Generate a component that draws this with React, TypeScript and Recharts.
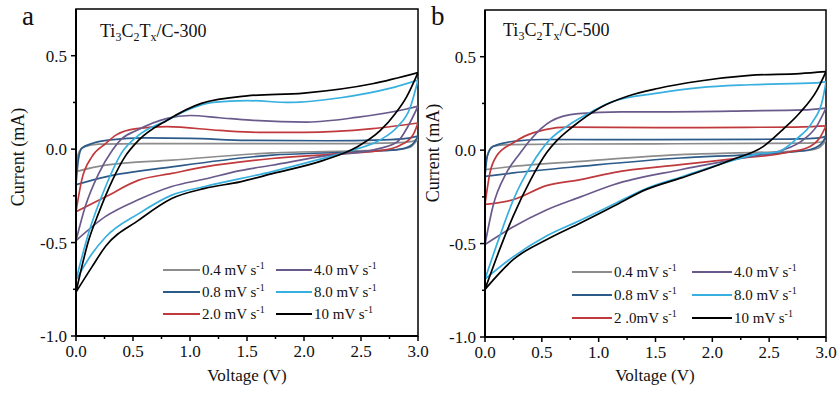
import React from 'react';
import { LineChart, Line, XAxis, YAxis, ReferenceArea } from 'recharts';

type Pt = [number, number];

// scan rates, legend text and colours (same order in both panels)
const labelsA = ['0.4 mV s', '0.8 mV s', '2.0 mV s', '4.0 mV s', '8.0 mV s', '10 mV s'];
const labelsB = ['0.4 mV s', '0.8 mV s', '2 .0mV s', '4.0 mV s', '8.0 mV s', '10 mV s'];
const colors = ['#8c8c8c', '#2d5b89', '#c0393c', '#6a5a8c', '#37afdf', '#000000'];

const xTicks = [0, 0.25, 0.5, 0.75, 1, 1.25, 1.5, 1.75, 2, 2.25, 2.5, 2.75, 3];
const yTicks = [-1, -0.75, -0.5, -0.25, 0, 0.25, 0.5];

// panel a: Ti3C2Tx/C-300, voltage (V) vs current (mA)
// Fwd = anodic sweep (upper branch), Rev = cathodic sweep (lower branch), both listed by rising V
const a04Fwd: Pt[] = [[0, -0.12], [0.01, -0.07], [0.02, -0.025], [0.07, 0.012], [0.2, 0.027], [0.6, 0.03], [1.5, 0.03], [2.4, 0.03], [2.8, 0.034], [2.95, 0.042], [3, 0.055]];
const a04Rev: Pt[] = [[0, -0.12], [0.26, -0.086], [0.84, -0.059], [1.72, -0.02], [2.4, -0.01], [2.8, -0.004], [2.93, 0.01], [3, 0.055]];
const a08Fwd: Pt[] = [[0, -0.19], [0.02, -0.06], [0.05, 0.004], [0.14, 0.03], [0.3, 0.05], [0.6, 0.06], [1, 0.058], [1.5, 0.047], [2.2, 0.045], [2.7, 0.05], [2.9, 0.058], [3, 0.07]];
const a08Rev: Pt[] = [[0, -0.19], [0.26, -0.148], [0.84, -0.095], [1.72, -0.032], [2.3, -0.018], [2.7, -0.008], [2.85, 0], [2.95, 0.025], [3, 0.07]];
const a20Fwd: Pt[] = [[0, -0.335], [0.05, -0.166], [0.14, -0.04], [0.26, 0.03], [0.35, 0.075], [0.53, 0.11], [0.8, 0.12], [1.26, 0.1], [1.6, 0.09], [2, 0.09], [2.6, 0.11], [3, 0.14]];
const a20Rev: Pt[] = [[0, -0.335], [0.26, -0.255], [0.55, -0.166], [0.84, -0.13], [1.13, -0.095], [1.72, -0.05], [2.3, -0.025], [2.7, -0.005], [2.84, 0.02], [2.92, 0.05], [2.96, 0.08], [3, 0.14]];
const a40Fwd: Pt[] = [[0, -0.49], [0.08, -0.31], [0.2, -0.13], [0.32, -0.005], [0.4, 0.055], [0.53, 0.1], [0.8, 0.165], [1, 0.18], [1.26, 0.168], [1.53, 0.155], [2.03, 0.145], [2.46, 0.17], [2.9, 0.215], [3, 0.23]];
const a40Rev: Pt[] = [[0, -0.49], [0.26, -0.36], [0.55, -0.27], [0.84, -0.2], [1.13, -0.16], [1.44, -0.115], [1.72, -0.086], [2.2, -0.035], [2.6, -0.005], [2.82, 0.04], [2.91, 0.12], [3, 0.23]];
const a80Fwd: Pt[] = [[0, -0.7], [0.11, -0.45], [0.26, -0.2], [0.4, -0.02], [0.55, 0.075], [0.8, 0.155], [1, 0.215], [1.2, 0.25], [1.5, 0.26], [1.88, 0.25], [2.32, 0.275], [2.75, 0.325], [3, 0.37]];
const a80Rev: Pt[] = [[0, -0.7], [0.14, -0.56], [0.26, -0.47], [0.55, -0.345], [0.84, -0.246], [1.13, -0.2], [1.72, -0.12], [2.1, -0.06], [2.4, -0.01], [2.67, 0.05], [2.82, 0.12], [2.93, 0.22], [3, 0.37]];
const a10Fwd: Pt[] = [[0, -0.765], [0.11, -0.49], [0.2, -0.34], [0.32, -0.166], [0.43, -0.04], [0.55, 0.048], [0.8, 0.155], [1.1, 0.245], [1.5, 0.285], [2, 0.3], [2.6, 0.35], [3, 0.41]];
const a10Rev: Pt[] = [[0, -0.765], [0.14, -0.63], [0.26, -0.52], [0.55, -0.38], [0.84, -0.264], [1.13, -0.21], [1.44, -0.175], [1.73, -0.13], [2.17, -0.06], [2.46, 0.01], [2.67, 0.1], [2.8, 0.19], [2.9, 0.28], [3, 0.41]];

// panel b: Ti3C2Tx/C-500
const b04Fwd: Pt[] = [[0, -0.104], [0.01, -0.06], [0.03, -0.01], [0.07, 0.02], [0.2, 0.03], [0.8, 0.033], [1.5, 0.034], [2.4, 0.036], [2.85, 0.038], [2.97, 0.045], [3, 0.052]];
const b04Rev: Pt[] = [[0, -0.104], [0.25, -0.087], [0.84, -0.06], [1.72, -0.024], [2.4, -0.012], [2.8, -0.004], [2.93, 0.01], [3, 0.052]];
const b08Fwd: Pt[] = [[0, -0.14], [0.02, -0.033], [0.07, 0.02], [0.25, 0.047], [0.5, 0.057], [1.5, 0.056], [2.4, 0.058], [2.85, 0.062], [2.97, 0.068], [3, 0.075]];
const b08Rev: Pt[] = [[0, -0.14], [0.25, -0.122], [0.84, -0.087], [1.72, -0.042], [2.3, -0.025], [2.7, -0.01], [2.87, 0.005], [2.96, 0.035], [3, 0.075]];
const b20Fwd: Pt[] = [[0, -0.29], [0.044, -0.12], [0.1, -0.033], [0.25, 0.04], [0.35, 0.075], [0.53, 0.11], [0.73, 0.123], [1.52, 0.12], [2.3, 0.122], [2.8, 0.125], [3, 0.13]];
const b20Rev: Pt[] = [[0, -0.29], [0.25, -0.265], [0.54, -0.19], [0.84, -0.158], [1.13, -0.12], [1.72, -0.078], [2.2, -0.045], [2.68, -0.01], [2.86, 0.02], [2.95, 0.07], [3, 0.13]];
const b40Fwd: Pt[] = [[0, -0.505], [0.07, -0.3], [0.19, -0.12], [0.31, -0.015], [0.4, 0.056], [0.58, 0.155], [0.82, 0.195], [1.2, 0.205], [1.52, 0.205], [2.3, 0.21], [2.8, 0.215], [3, 0.225]];
const b40Rev: Pt[] = [[0, -0.505], [0.25, -0.41], [0.54, -0.32], [0.84, -0.25], [1.13, -0.185], [1.72, -0.105], [2.33, -0.035], [2.62, 0], [2.8, 0.055], [2.92, 0.13], [3, 0.225]];
const b80Fwd: Pt[] = [[0, -0.69], [0.13, -0.46], [0.25, -0.265], [0.4, -0.087], [0.57, 0.056], [0.75, 0.14], [0.95, 0.21], [1.1, 0.255], [1.52, 0.305], [1.89, 0.335], [2.33, 0.35], [2.92, 0.36], [3, 0.365]];
const b80Rev: Pt[] = [[0, -0.69], [0.25, -0.57], [0.54, -0.46], [0.84, -0.375], [1.13, -0.29], [1.42, -0.205], [1.72, -0.145], [2.18, -0.055], [2.4, -0.02], [2.57, -0.01], [2.74, 0.06], [2.88, 0.15], [2.97, 0.27], [3, 0.365]];
const b10Fwd: Pt[] = [[0, -0.745], [0.13, -0.53], [0.25, -0.35], [0.4, -0.16], [0.54, -0.015], [0.64, 0.056], [0.76, 0.12], [1.02, 0.23], [1.26, 0.29], [1.52, 0.33], [1.89, 0.37], [2.33, 0.4], [2.77, 0.41], [3, 0.42]];
const b10Rev: Pt[] = [[0, -0.745], [0.25, -0.585], [0.54, -0.48], [0.84, -0.39], [1.13, -0.3], [1.42, -0.21], [1.72, -0.15], [2.18, -0.05], [2.45, 0.02], [2.62, 0.11], [2.77, 0.2], [2.92, 0.32], [3, 0.42]];

const seriesA = [[a04Fwd, a04Rev], [a08Fwd, a08Rev], [a20Fwd, a20Rev], [a40Fwd, a40Rev], [a80Fwd, a80Rev], [a10Fwd, a10Rev]];
const seriesB = [[b04Fwd, b04Rev], [b08Fwd, b08Rev], [b20Fwd, b20Rev], [b40Fwd, b40Rev], [b80Fwd, b80Rev], [b10Fwd, b10Rev]];

const FONT = 'Liberation Serif, Times New Roman, DejaVu Serif, serif';
const txt = (size: number) => ({ fontFamily: FONT, fontSize: size });

const toRows = (pts: Pt[]) => pts.map(([v, i]) => ({ v, i }));

const isMajor = (val: number) => Math.abs(val * 2 - Math.round(val * 2)) < 1e-6;

const XTick = (props: any) => {
  const { x, y, payload } = props;
  const major = isMajor(payload.value);
  return (
    <g>
      <line x1={x} x2={x} y1={y} y2={y + (major ? 5 : 3)} stroke="#000" strokeWidth={1.5} />
      {major && (
        <text x={x} y={y + 21} textAnchor="middle" style={txt(17)} fill="#111">
          {payload.value.toFixed(1)}
        </text>
      )}
    </g>
  );
};

const YTick = (props: any) => {
  const { x, y, payload } = props;
  const major = isMajor(payload.value);
  return (
    <g>
      <line x1={x} x2={x - (major ? 5 : 3)} y1={y} y2={y} stroke="#000" strokeWidth={1.5} />
      {major && (
        <text x={x - 9} y={y + 6} textAnchor="end" style={txt(17)} fill="#111">
          {payload.value.toFixed(1)}
        </text>
      )}
    </g>
  );
};

interface PanelProps {
  series: Pt[][][];
  left: number;
  top: number;
  right: number;
  yWidth: number;
  xHeight: number;
}

const Panel: React.FC<PanelProps> = ({ series, left, top, right, yWidth, xHeight }) => (
  <div style={{ position: 'absolute', left, top: 0 }}>
    <LineChart width={440} height={394} margin={{ top, right, bottom: 0, left: 0 }}>
      <ReferenceArea x1={0} x2={3} y1={-1} y2={0.75} fill="none" stroke="#000" strokeWidth={1.5} />
      <XAxis
        type="number"
        dataKey="v"
        domain={[0, 3]}
        ticks={xTicks}
        interval={0}
        tick={<XTick />}
        tickLine={false}
        tickSize={0}
        tickMargin={0}
        height={xHeight}
        axisLine={{ stroke: '#000', strokeWidth: 2 }}
        allowDataOverflow
      />
      <YAxis
        type="number"
        domain={[-1, 0.75]}
        ticks={yTicks}
        interval={0}
        tick={<YTick />}
        tickLine={false}
        tickSize={0}
        tickMargin={0}
        width={yWidth}
        axisLine={{ stroke: '#000', strokeWidth: 2 }}
        allowDataOverflow
      />
      {series.map(([fwd, rev], k) => [
        <Line
          key={`f${k}`}
          data={toRows(fwd)}
          dataKey="i"
          type="monotone"
          stroke={colors[k]}
          strokeWidth={1.7}
          dot={false}
          activeDot={false}
          isAnimationActive={false}
        />,
        <Line
          key={`r${k}`}
          data={toRows(rev)}
          dataKey="i"
          type="monotone"
          stroke={colors[k]}
          strokeWidth={1.7}
          dot={false}
          activeDot={false}
          legendType="none"
          isAnimationActive={false}
        />,
      ])}
    </LineChart>
  </div>
);

const Title = ({ x, y, num }: { x: number; y: number; num: string }) => (
  <text x={x} y={y} style={txt(18)} fill="#111">
    Ti<tspan dy={4} fontSize={12}>3</tspan>
    <tspan dy={-4}>C</tspan>
    <tspan dy={4} fontSize={12}>2</tspan>
    <tspan dy={-4}>T</tspan>
    <tspan dy={4} fontSize={12}>x</tspan>
    <tspan dy={-4}>/C-{num}</tspan>
  </text>
);

const LegendBlock = ({ labels, cols, rowY }: { labels: string[]; cols: number[][]; rowY: number[] }) => (
  <g>
    {labels.map((lab, k) => {
      const c = cols[Math.floor(k / 3)];
      const y = rowY[k % 3];
      return (
        <g key={lab + k}>
          <line x1={c[0]} x2={c[1]} y1={y} y2={y} stroke={colors[k]} strokeWidth={2} />
          <text x={c[1] + 2} y={y + 5} style={txt(15)} fill="#111">
            {lab}
            <tspan dy={-6} fontSize={10}>-1</tspan>
          </text>
        </g>
      );
    })}
  </g>
);

export default function App() {
  return (
    <div style={{ position: 'absolute', left: 0, top: 0, width: 840, height: 394, background: '#fff', overflow: 'hidden' }}>
      <Panel series={seriesA} left={0} top={9} right={22} yWidth={76} xHeight={58} />
      <Panel series={seriesB} left={420} top={10} right={34} yWidth={65} xHeight={57} />
      <svg width={840} height={394} style={{ position: 'absolute', left: 0, top: 0, pointerEvents: 'none' }}>
        <text x={22} y={25} style={txt(27)} fill="#111">a</text>
        <text x={431} y={25} style={txt(27)} fill="#111">b</text>
        <Title x={100} y={37} num="300" />
        <Title x={503} y={36} num="500" />
        <text transform="translate(24,157) rotate(-90)" textAnchor="middle" style={txt(18)} fill="#111">Current (mA)</text>
        <text transform="translate(439,153) rotate(-90)" textAnchor="middle" style={txt(18)} fill="#111">Current (mA)</text>
        <text x={247} y={381} textAnchor="middle" style={txt(17)} fill="#111">Voltage (V)</text>
        <text x={655} y={381} textAnchor="middle" style={txt(17)} fill="#111">Voltage (V)</text>
        <LegendBlock labels={labelsA} cols={[[163, 200], [276, 312]]} rowY={[270, 292, 314]} />
        <LegendBlock labels={labelsB} cols={[[572, 612], [692, 732]]} rowY={[272, 295, 318]} />
      </svg>
    </div>
  );
}
